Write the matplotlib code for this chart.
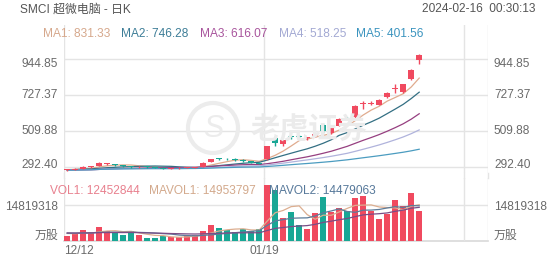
import matplotlib
matplotlib.use('Agg')
import matplotlib.pyplot as plt
import numpy as np
import pandas as pd
from matplotlib.patches import Circle

plt.rcParams['font.family'] = ['Liberation Sans', 'Noto Sans CJK SC', 'DejaVu Sans']

# ---------------- data ----------------
dates = ['12/12', '12/13', '12/14', '12/15', '12/18', '12/19', '12/20', '12/21', '12/22',
         '12/26', '12/27', '12/28', '12/29', '01/02', '01/03', '01/04', '01/05', '01/08',
         '01/09', '01/10', '01/11', '01/12', '01/16', '01/17', '01/18', '01/19', '01/22',
         '01/23', '01/24', '01/25', '01/26', '01/29', '01/30', '01/31', '02/01', '02/02',
         '02/05', '02/06', '02/07', '02/08', '02/09', '02/12', '02/13', '02/14', '02/15']

opens = [274, 279, 283, 294, 300, 311, 309, 305, 299, 292, 297, 294, 290, 283, 286, 288,
         290, 296, 326, 344, 342, 340, 338, 329, 320, 342, 467, 435, 477, 478, 468, 480,
         550, 500, 543, 590, 595, 676, 676, 670, 716, 765, 746, 825, 940]
highs = [284, 287, 299, 302, 324, 318, 314, 309, 303, 299, 300, 297, 293, 290, 292, 294,
         297, 323, 345, 350, 348, 346, 342, 333, 324, 424, 481, 460, 484, 485, 476, 497,
         560, 533, 588, 598, 666, 690, 690, 705, 746, 797, 797, 884, 976]
lows = [270, 276, 280, 289, 298, 305, 300, 297, 289, 289, 291, 287, 281, 280, 284, 286,
        288, 294, 322, 337, 335, 333, 327, 318, 311, 338, 420, 420, 466, 468, 460, 475,
        500, 495, 540, 582, 590, 645, 668, 666, 712, 740, 742, 820, 916]
closes = [280, 284, 295, 296, 320, 312, 305, 302, 292, 296, 294, 290, 284, 287, 289, 290,
          294, 318, 340, 342, 340, 338, 330, 321, 314, 422, 438, 457, 475, 476, 470, 495,
          509, 530, 584, 588, 660, 680, 678, 700, 743, 770, 794, 880, 970]
# closes before the first visible day (only feed the moving averages)
prior_closes = [262, 268, 275, 281, 272, 270, 266, 274, 279, 283, 277, 280, 276, 279, 278]

# volume, millions of shares
volume = [2.18, 2.88, 4.40, 3.58, 5.64, 4.12, 3.42, 2.47, 4.24, 2.47, 1.23, 1.11, 2.06,
          1.77, 1.52, 2.06, 2.35, 4.24, 6.59, 5.35, 4.53, 3.83, 4.82, 4.24, 5.06, 23.05,
          20.99, 9.59, 12.06, 6.59, 5.06, 11.40, 17.99, 11.94, 13.46, 12.35, 17.58, 18.52,
          12.35, 9.24, 11.11, 16.88, 14.53, 19.80, 12.45]
prior_volume = [3.6, 4.1, 2.9, 3.3, 3.8, 2.7, 3.1, 3.5, 4.0, 3.2, 2.8, 3.4, 3.9, 3.0,
                3.6, 3.3, 2.9, 3.7, 3.4]

ma_periods = [5, 10, 20, 30, 60]
ma_names = ['MA1', 'MA2', 'MA3', 'MA4', 'MA5']
ma_values = [831.33, 746.28, 616.07, 518.25, 401.56]
mavol_periods = [5, 10, 20]
vol_legend_names = ['VOL1', 'MAVOL1', 'MAVOL2']
vol_legend_values = [12452844, 14953797, 14479063]

price_ticks = [292.40, 509.88, 727.37, 944.85]
vol_tick = 14819318
vol_unit = '万股'
date_labels = ['12/12', '01/19']
grid_every = 25

title = 'SMCI 超微电脑 - 日K'
timestamp = '2024-02-16  00:30:13'
watermark = '老虎证券'

# ---------------- style ----------------
W, H = 552, 265
UP = '#f04a5f'
DOWN = '#18a795'
ma_line_colors = ['#e0ab8e', '#336f83', '#963f80', '#b0b3dc', '#4b9cc0']
ma_text_colors = ['#d6a88c', '#3d7d97', '#a8549c', '#a3a9d3', '#3b94bf']
vol_line_colors = ['#dcae90', '#5c7b99', '#7a4d86']
vol_text_colors = ['#e8808e', '#d3a98c', '#56789a']
GRID = '#e4e4e4'
TXT = '#6a6a6a'
FS = 8.6

def fx(px):
    return px / W

def fy(py):
    return 1 - py / H

fig = plt.figure(figsize=(W / 100, H / 100), dpi=100)
fig.patch.set_facecolor('white')

ax = fig.add_axes([fx(64), fy(173), fx(488) - fx(64), fy(25) - fy(173)])
axv = fig.add_axes([fx(64), fy(241), fx(488) - fx(64), fy(178) - fy(241)])
for a in (ax, axv):
    for s in a.spines.values():
        s.set_visible(False)
    a.set_xticks([])
    a.set_yticks([])
    a.set_facecolor('none')
    a.set_xlim(-0.4, 52.6)

n = len(closes)
x = np.arange(n)
o = np.array(opens, float)
c = np.array(closes, float)
hi = np.array(highs, float)
lo = np.array(lows, float)
up = c >= o
cols = np.where(up, UP, DOWN)

ax.set_ylim(258.0, 1152.1)
axv.set_ylim(0, 25.93)

# grid
for t in price_ticks:
    ax.axhline(t, color=GRID, lw=1.0, zorder=0)
axv.axhline(vol_tick / 1e6, color=GRID, lw=1.0, zorder=0)
axv.axhline(0, color='#d9d9d9', lw=1.2, zorder=0, clip_on=False)
grid_x = list(range(0, 53, grid_every))
for a in (ax, axv):
    for gx in grid_x:
        a.axvline(gx - 0.4, color=GRID, lw=1.0, zorder=0)
    a.axvline(52.6, color=GRID, lw=1.0, zorder=0)
# continuous vertical lines across the gap between panels
for gx in grid_x + [53]:
    xp = 64 + gx * 8 if gx < 53 else 488
    fig.add_artist(plt.Line2D([fx(xp), fx(xp)], [fy(178), fy(173)], color=GRID, lw=1.0))

# watermark
wm_circle = Circle((213, H - 128), 25, transform=None, fill=False, ec='#ececec', lw=3)
fig.add_artist(wm_circle)
fig.text(fx(213), fy(129), 'S', fontsize=22, color='#ececec', ha='center', va='center',
         style='italic')
fig.text(fx(250), fy(129), watermark, fontsize=21, color='#ebebeb', ha='left', va='center',
         fontweight='bold', family=['Noto Sans CJK SC'])

# moving averages
all_close = pd.Series(prior_closes + closes, dtype=float)
for p, col in zip(ma_periods, ma_line_colors):
    ma = all_close.rolling(p, min_periods=1).mean().to_numpy()[len(prior_closes):]
    ax.plot(x, ma, color=col, lw=0.9, zorder=2)

# candles
body_bottom = np.minimum(o, c)
body_h = np.maximum(np.abs(c - o), 5.0)
ax.vlines(x, lo, hi, colors=cols, lw=1.0, zorder=3)
ax.bar(x, body_h, bottom=body_bottom, width=0.72, color=cols, lw=0, zorder=4)

# volume
vol = np.array(volume)
axv.bar(x, vol, width=0.78, color=cols, lw=0, zorder=2)
all_vol = pd.Series(prior_volume + volume, dtype=float)
for p, col in zip(mavol_periods, vol_line_colors):
    mv = all_vol.rolling(p, min_periods=1).mean().to_numpy()[len(prior_volume):]
    axv.plot(x, mv, color=col, lw=0.9, zorder=3)

# header texts
fig.text(fx(20), fy(9.5), title, fontsize=FS, color='#555555', ha='left', va='center')
fig.text(fx(536), fy(9.5), timestamp, fontsize=FS, color='#555555', ha='right', va='center')

ma_x = [43, 121, 199.5, 279, 355.5]
for name, val, col, xp in zip(ma_names, ma_values, ma_text_colors, ma_x):
    fig.text(fx(xp), fy(34), f'{name}: {val:.2f}', fontsize=FS, color=col,
             ha='left', va='center')

vol_x = [49.5, 149, 269]
for name, val, col, xp in zip(vol_legend_names, vol_legend_values, vol_text_colors, vol_x):
    fig.text(fx(xp), fy(191), f'{name}: {val}', fontsize=FS, color=col,
             ha='left', va='center', zorder=10)

# price axis labels (top one nudged down, bottom one nudged up, as in the reference)
def price_to_py(p):
    y0, y1 = ax.get_ylim()
    return 173 - (p - y0) / (y1 - y0) * 148

nudge = {0: -2.3, len(price_ticks) - 1: 4.7}
for k, t in enumerate(price_ticks):
    py = price_to_py(t) + nudge.get(k, 0)
    fig.text(fx(58), fy(py), f'{t:.2f}', fontsize=FS, color=TXT, ha='right', va='center')
    fig.text(fx(494), fy(py), f'{t:.2f}', fontsize=FS, color=TXT, ha='left', va='center')

vpy = 241 - (vol_tick / 1e6) / 25.93 * 63 + 2
for xp, ha in ((58, 'right'), (494, 'left')):
    fig.text(fx(xp), fy(vpy), f'{vol_tick}', fontsize=FS, color=TXT, ha=ha, va='center')
    fig.text(fx(xp), fy(236), vol_unit, fontsize=FS, color=TXT, ha=ha, va='center')

# date labels
for k, lab in enumerate(date_labels):
    idx = dates.index(lab)
    xp = 64 + idx * 8
    fig.text(fx(xp), fy(251.5), lab, fontsize=FS, color=TXT,
             ha='left' if k == 0 else 'center', va='center')

fig.savefig('out.png', dpi=100, facecolor='white')
